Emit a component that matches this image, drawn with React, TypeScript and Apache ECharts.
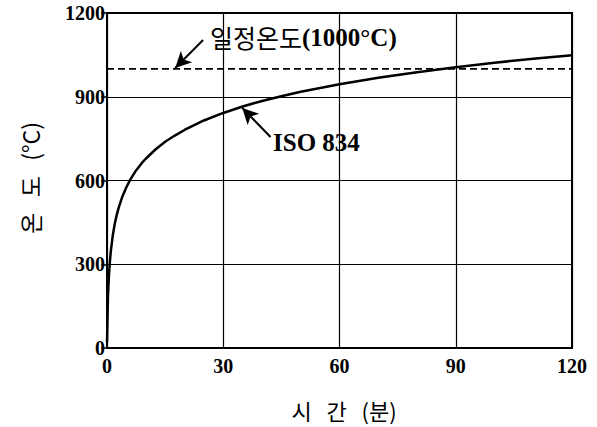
import React, { useEffect, useRef } from "react";
import * as echarts from "echarts";

const timeMin = [0, 0.25, 0.5, 0.75, 1, 1.5, 2, 2.5, 3, 4, 5, 6, 7.5, 9, 10, 12.5, 15, 17.5, 20, 25, 30, 35, 40, 45, 50, 60, 70, 80, 90, 100, 110, 120];
const isoTemp = [20, 185, 261, 310, 349, 404, 445, 476, 502, 544, 576, 603, 636, 663, 678, 711, 739, 761, 781, 815, 842, 865, 885, 902, 918, 945, 968, 988, 1006, 1022, 1036, 1049];
const constTime = [0, 120];
const constTemp = [1000, 1000];
const xTicks = { min: 0, max: 120, interval: 30 };
const yTicks = { min: 0, max: 1200, interval: 300 };
const constLabelArrow = [[24.8, 1103], [17.6, 1003]];
const isoLabelArrow = [[42.2, 756], [34.9, 860]];

const SERIF = "'Liberation Serif', 'Times New Roman', serif";
const KR = "'Noto Sans CJK KR', 'Noto Sans', sans-serif";

export default function App() {
  const ref = useRef<HTMLDivElement>(null);
  useEffect(() => {
    if (!ref.current) return;
    const chart = echarts.init(ref.current, null, { renderer: "svg" });
    const arrowLine = (pts: number[][]) => [
      { coord: pts[0], symbol: "none" },
      { coord: pts[1], symbol: "arrow" },
    ];
    chart.setOption({
      animation: false,
      backgroundColor: "#fff",
      grid: { left: 107, right: 25, top: 13, bottom: 79, show: true, borderColor: "#000", borderWidth: 2 },
      xAxis: {
        type: "value",
        ...xTicks,
        axisLine: { show: true, lineStyle: { color: "#000", width: 2 } },
        axisTick: { show: false },
        axisLabel: { color: "#000", fontFamily: SERIF, fontWeight: "bold", fontSize: 20, margin: 8, formatter: (v: number) => String(v) },
        splitLine: { show: true, lineStyle: { color: "#000", width: 1.2 } },
      },
      yAxis: {
        type: "value",
        ...yTicks,
        axisLine: { show: true, lineStyle: { color: "#000", width: 2 } },
        axisTick: { show: true, length: 6, lineStyle: { color: "#000", width: 1.5 } },
        axisLabel: { color: "#000", fontFamily: SERIF, fontWeight: "bold", fontSize: 20, margin: 2, formatter: (v: number) => String(v) },
        splitLine: { show: true, lineStyle: { color: "#000", width: 1.2 } },
      },
      series: [
        {
          type: "line",
          data: constTime.map((t, i) => [t, constTemp[i]]),
          showSymbol: false,
          lineStyle: { color: "#000", width: 1.8, type: [7, 4] },
          silent: true,
          markLine: {
            silent: true,
            symbolSize: [12, 16],
            label: { show: false },
            lineStyle: { color: "#000", width: 2, type: "solid" },
            data: [arrowLine(constLabelArrow), arrowLine(isoLabelArrow)],
          },
        },
        {
          type: "line",
          data: timeMin.map((t, i) => [t, isoTemp[i]]),
          showSymbol: false,
          smooth: false,
          lineStyle: { color: "#000", width: 2.5, join: "round" },
          silent: true,
        },
      ],
      graphic: [
        {
          type: "text",
          x: 210,
          y: 37,
          style: {
            text: "{a|일정온도}{b|(1000°C)}",
            verticalAlign: "middle",
            rich: {
              a: { fontFamily: KR, fontSize: 25, fill: "#000" },
              b: { fontFamily: SERIF, fontSize: 25, fontWeight: "bold", fill: "#000" },
            },
          },
        },
        {
          type: "text",
          x: 273,
          y: 142,
          style: { text: "ISO 834", fontFamily: SERIF, fontWeight: "bold", fontSize: 25, fill: "#000", verticalAlign: "middle" },
        },
        {
          type: "text",
          x: 344,
          y: 410,
          style: { text: "시   간   (분)", fontFamily: KR, fontSize: 22, fill: "#000", align: "center", verticalAlign: "middle" },
        },
        {
          type: "text",
          x: 30,
          y: 178,
          rotation: Math.PI / 2,
          style: { text: "온   도   (°C)", fontFamily: KR, fontSize: 23, fill: "#000", opacity: 1, align: "center", verticalAlign: "middle" },
        },
      ],
    });
    return () => chart.dispose();
  }, []);
  return <div ref={ref} style={{ width: 597, height: 427, position: "absolute", left: 0, top: 0 }} />;
}
